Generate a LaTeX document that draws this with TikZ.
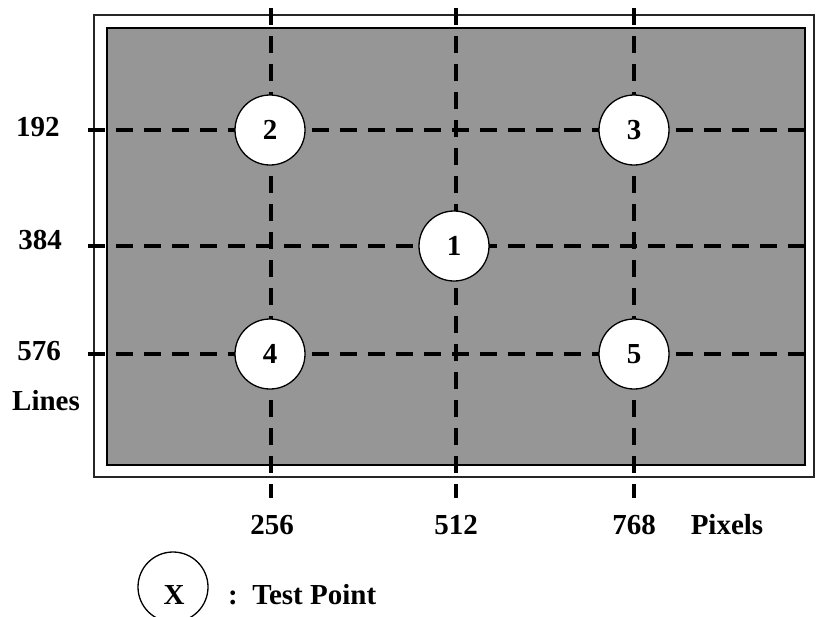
\documentclass[tikz,border=0pt]{standalone}
\usepackage{fontspec}
\setmainfont{Liberation Serif}
\usepackage{tikz}
\usetikzlibrary{positioning}
\definecolor{panelgray}{RGB}{150,150,150}

\begin{document}
\begin{tikzpicture}[x=1pt, y=-1pt,
		gridline/.style={line width=4.5pt, dash pattern=on 17pt off 11pt},
		testpoint/.style={circle, draw, line width=1.3pt, fill=white, minimum size=70pt, inner sep=0pt, font=\fontsize{29}{35}\selectfont\bfseries},
		lbl/.style={font=\fontsize{29}{35}\selectfont\bfseries, inner sep=0pt, anchor=base}]
			\useasboundingbox (0,0) rectangle (816,616);
			
			\draw[line width=1.3pt, black!85] (94,15) rectangle (814,477);
			\draw[line width=1.8pt, fill=panelgray] (107,28) rectangle (805,465);
			
			\draw[gridline] (88,130) -- (812,130);
			\draw[gridline] (88,246) -- (812,246);
			\draw[gridline] (88,354) -- (814,354);
			\draw[gridline] (271,8) -- (271,498);
			\draw[gridline] (456,8) -- (456,498);
			\draw[gridline] (634,8) -- (634,498);
			
			\node[testpoint] (P1) at (454,246) {1};
			\node[testpoint] (P2) at (270,130) {2};
			\node[testpoint] (P3) at (634,130) {3};
			\node[testpoint] (P4) at (270,354) {4};
			\node[testpoint] (P5) at (634,354) {5};
			
			\node[lbl] (L192) at (38,136) {192};
			\node[lbl] (L384) at (40,249) {384};
			\node[lbl] (L576) at (39,360) {576};
			\node[lbl] (Lines) at (46,410) {Lines};
			
			\node[lbl] (C256) at (272,534) {256};
			\node[lbl] (C512) at (456,534) {512};
			\node[lbl] (C768) at (634,534) {768};
			\node[lbl] (Pixels) at (727,534) {Pixels};
			
			\node[testpoint] (PX) at (173,587) {};
			\node[lbl] (X) at (174,604) {X};
			\node[lbl, anchor=base west] (key) at (228,604) {:\ \ Test Point};
			\end{tikzpicture}
\end{document}
